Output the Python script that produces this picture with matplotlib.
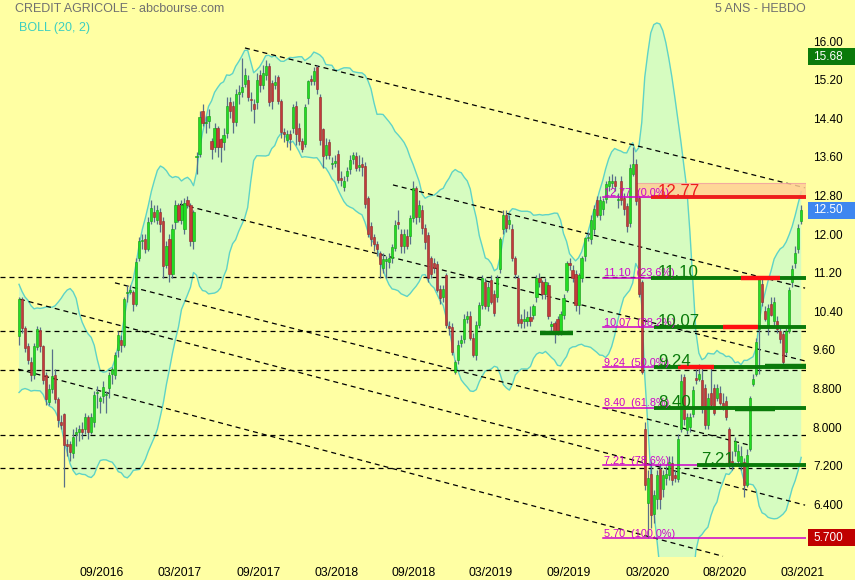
## CREDIT AGRICOLE weekly chart (5 ans - hebdo) with Bollinger (20, 2) and Fibonacci levels
import numpy as np
import pandas as pd
import matplotlib
matplotlib.use('Agg')
from matplotlib import pyplot as plt
from matplotlib import transforms
from matplotlib.patches import Rectangle

plt.rcParams['font.family'] = ['Liberation Sans', 'DejaVu Sans']

# weekly candles, bar 0 ~ early March 2016, bar 260 ~ early March 2021
opens = [9.88, 10.65, 10.05, 9.67, 9.35, 9.08, 9.65, 10.02, 9.67, 9.08,
         8.52, 8.79, 9.08, 8.58, 8.10, 8.27, 7.65, 7.65, 7.47, 7.85,
         7.90, 7.96, 7.96, 8.20, 7.90, 8.10, 8.70, 8.55, 8.65, 8.66,
         8.80, 9.10, 9.08, 9.60, 9.80, 9.70, 10.78, 10.80, 10.80, 10.55,
         11.50, 11.85, 11.90, 11.70, 12.27, 12.45, 12.30, 12.45, 12.27, 11.35,
         11.90, 11.17, 12.25, 12.60, 12.30, 12.10, 12.70, 12.60, 11.85, 13.60,
         13.67, 14.56, 14.30, 14.35, 13.94, 13.80, 14.20, 13.98, 13.90, 14.10,
         14.73, 14.65, 14.33, 14.90, 14.94, 15.12, 15.20, 14.80, 14.70, 14.73,
         15.30, 15.10, 15.30, 15.48, 15.13, 15.10, 15.25, 14.75, 14.12, 13.95,
         14.07, 14.20, 14.65, 14.20, 13.94, 13.87, 14.83, 15.20, 15.17, 15.46,
         14.85, 14.17, 13.65, 13.90, 13.45, 13.48, 13.67, 13.15, 12.98, 13.20,
         13.35, 13.55, 13.62, 13.40, 13.45, 13.42, 12.75, 12.17, 11.95, 11.80,
         11.60, 11.30, 11.45, 11.43, 11.50, 11.71, 12.25, 12.00, 11.75, 11.96,
         11.96, 12.33, 12.95, 12.35, 12.50, 12.13, 11.98, 11.50, 11.40, 11.38,
         10.87, 10.70, 11.15, 10.08, 10.08, 9.15, 9.40, 9.75, 9.83, 10.25,
         10.30, 9.85, 9.50, 10.12, 10.54, 11.00, 10.50, 11.05, 10.75, 10.70,
         11.27, 12.10, 12.40, 12.20, 12.10, 11.50, 11.10, 10.25, 10.20, 10.20,
         10.28, 10.33, 10.70, 11.10, 11.00, 10.75, 10.95, 10.10, 10.15, 10.25,
         9.98, 10.33, 10.85, 11.40, 11.25, 11.17, 10.52, 11.08, 11.54, 11.92,
         11.90, 12.10, 12.70, 12.40, 12.52, 12.73, 13.00, 13.05, 13.10, 12.70,
         13.10, 12.75, 12.58, 12.23, 13.25, 13.46, 12.75, 11.00, 7.96, 6.43,
         7.02, 6.20, 6.50, 7.12, 6.71, 6.95, 7.00, 7.25, 7.00, 6.92,
         7.96, 9.04, 7.94, 8.00, 8.27, 9.02, 9.00, 8.98, 8.80, 8.04,
         8.70, 8.80, 8.60, 8.70, 8.50, 8.55, 7.96, 7.30, 7.50, 7.30,
         7.20, 7.27, 6.80, 7.55, 8.90, 9.10, 10.04, 10.96, 10.40, 10.08,
         10.56, 10.19, 10.19, 10.00, 9.92, 9.55, 10.00, 11.00, 11.40, 11.70,
         12.27]
highs = [10.70, 10.70, 10.10, 9.75, 9.45, 9.75, 10.10, 10.08, 9.70, 9.15,
         8.90, 9.62, 9.20, 8.62, 8.25, 8.30, 7.75, 7.70, 7.95, 8.00,
         8.05, 8.10, 8.30, 8.25, 8.30, 8.75, 8.85, 8.65, 8.95, 8.75,
         9.15, 9.25, 9.55, 10.00, 9.90, 10.70, 10.95, 10.95, 10.85, 11.50,
         11.95, 12.00, 12.00, 12.35, 12.70, 12.60, 12.60, 12.55, 12.35, 11.85,
         12.00, 12.20, 12.70, 12.65, 12.70, 12.75, 12.80, 12.65, 12.50, 13.70,
         14.55, 14.70, 14.45, 14.60, 14.00, 14.30, 14.25, 14.00, 14.20, 14.85,
         14.85, 14.75, 15.00, 15.10, 15.65, 15.45, 15.30, 14.95, 14.80, 15.35,
         15.40, 15.50, 15.62, 15.55, 15.20, 15.30, 15.30, 14.80, 14.20, 14.15,
         14.15, 14.70, 14.75, 14.30, 14.00, 14.70, 15.20, 15.30, 15.47, 15.50,
         14.90, 14.20, 14.00, 13.98, 13.60, 13.65, 13.75, 13.30, 13.20, 13.40,
         13.65, 13.70, 13.70, 13.65, 13.60, 13.50, 12.80, 12.25, 12.00, 11.85,
         11.65, 11.60, 11.55, 11.60, 11.80, 12.30, 12.50, 12.10, 12.10, 12.10,
         12.40, 13.10, 13.00, 12.70, 12.60, 12.20, 12.05, 11.55, 11.50, 11.45,
         10.95, 10.95, 11.20, 10.20, 10.15, 9.40, 9.80, 9.90, 10.35, 10.40,
         10.40, 9.95, 10.20, 10.60, 11.15, 11.10, 11.00, 11.15, 10.85, 11.15,
         11.95, 12.50, 12.50, 12.40, 12.20, 11.55, 11.15, 10.35, 10.45, 10.40,
         10.50, 10.55, 11.15, 11.20, 11.05, 11.10, 11.00, 10.20, 10.20, 10.30,
         10.40, 10.75, 11.45, 11.50, 11.35, 11.25, 11.20, 11.55, 11.95, 12.05,
         12.40, 12.60, 12.80, 12.80, 12.75, 13.10, 13.20, 13.25, 13.20, 12.85,
         13.20, 12.85, 12.65, 13.45, 13.80, 13.55, 12.80, 11.05, 8.10, 7.10,
         7.30, 6.70, 7.10, 7.25, 7.10, 7.20, 7.40, 7.40, 7.10, 7.85,
         9.10, 9.10, 8.30, 8.30, 8.85, 9.20, 9.30, 9.25, 8.90, 8.70,
         9.25, 8.90, 8.90, 8.85, 8.70, 8.65, 8.00, 7.50, 7.80, 7.65,
         7.60, 7.35, 7.55, 8.65, 9.10, 9.85, 11.10, 11.10, 10.50, 10.55,
         10.70, 10.70, 10.30, 10.10, 10.00, 10.05, 10.90, 11.35, 11.75, 12.20,
         12.60]
lows = [9.70, 9.95, 9.55, 9.30, 8.95, 9.00, 9.60, 9.55, 8.90, 8.45,
        8.45, 8.70, 8.50, 8.00, 7.95, 6.75, 7.40, 7.30, 7.35, 7.60,
        7.70, 7.75, 7.85, 7.75, 7.85, 8.00, 8.40, 8.30, 8.50, 8.30,
        8.60, 8.90, 9.00, 9.45, 9.55, 9.65, 10.60, 10.75, 10.40, 10.50,
        11.45, 11.70, 11.60, 11.65, 12.20, 12.25, 12.20, 12.05, 11.10, 11.30,
        11.00, 11.10, 12.10, 12.25, 12.20, 12.00, 12.55, 11.75, 11.70, 13.25,
        13.60, 14.25, 14.10, 14.20, 13.55, 13.70, 13.60, 13.50, 13.75, 14.00,
        14.40, 14.10, 14.25, 14.70, 14.85, 15.05, 14.75, 14.55, 14.30, 14.60,
        14.95, 15.00, 15.20, 14.65, 14.60, 15.00, 14.70, 14.00, 13.90, 13.80,
        13.75, 14.10, 13.85, 13.85, 13.70, 13.80, 14.70, 15.10, 15.10, 14.90,
        13.85, 13.37, 13.55, 13.55, 13.35, 13.40, 13.05, 13.00, 12.90, 13.10,
        13.25, 13.45, 13.30, 13.30, 13.20, 12.55, 11.95, 11.75, 11.65, 11.55,
        11.10, 11.20, 11.10, 11.30, 11.40, 11.65, 12.10, 11.60, 11.60, 11.70,
        11.80, 12.25, 12.20, 12.25, 12.00, 11.70, 11.00, 11.10, 11.20, 10.80,
        10.55, 10.60, 10.05, 9.90, 9.50, 9.10, 9.30, 9.65, 9.75, 10.15,
        9.80, 9.45, 9.40, 10.05, 10.45, 10.45, 10.40, 10.55, 10.30, 10.60,
        11.20, 12.00, 12.05, 12.10, 11.45, 11.10, 10.10, 10.05, 10.05, 10.10,
        10.10, 10.25, 10.60, 10.90, 10.65, 10.65, 10.25, 9.95, 9.75, 9.90,
        9.90, 10.25, 10.80, 11.25, 11.00, 10.40, 10.35, 11.00, 11.45, 11.85,
        11.80, 12.00, 12.35, 12.30, 12.40, 12.65, 12.90, 12.95, 12.90, 12.55,
        12.60, 12.40, 12.05, 12.15, 13.20, 12.60, 10.70, 9.10, 6.70, 5.70,
        5.90, 6.00, 6.30, 6.30, 6.55, 6.80, 6.90, 6.80, 6.85, 6.85,
        7.90, 8.05, 7.85, 7.90, 8.20, 8.90, 8.95, 8.30, 7.95, 7.95,
        8.40, 8.25, 8.55, 8.45, 8.35, 8.15, 7.15, 7.10, 7.40, 7.20,
        7.10, 6.55, 6.75, 7.50, 8.85, 9.05, 9.10, 10.50, 10.20, 9.90,
        10.30, 10.10, 9.95, 9.75, 9.30, 9.50, 9.95, 10.90, 11.30, 11.60,
        12.20]
closes = [10.65, 10.05, 9.63, 9.40, 9.08, 9.67, 10.04, 9.67, 8.98, 8.58,
          8.79, 9.05, 8.58, 8.15, 8.04, 7.63, 7.60, 7.48, 7.80, 7.90,
          7.95, 7.90, 8.20, 7.90, 8.20, 8.67, 8.73, 8.60, 8.83, 8.66,
          9.08, 9.20, 9.50, 9.90, 9.70, 10.65, 10.80, 10.85, 10.55, 11.43,
          11.85, 11.85, 11.70, 12.25, 12.55, 12.35, 12.50, 12.20, 11.33, 11.75,
          11.17, 12.10, 12.60, 12.30, 12.60, 12.65, 12.60, 11.85, 12.45, 13.63,
          14.42, 14.30, 14.30, 14.45, 13.77, 14.20, 13.80, 13.80, 14.06, 14.65,
          14.56, 14.33, 14.90, 14.95, 15.06, 15.30, 14.85, 14.78, 14.60, 15.20,
          15.10, 15.35, 15.48, 14.73, 14.75, 15.15, 14.75, 14.12, 14.08, 14.07,
          13.98, 14.63, 14.08, 13.94, 13.77, 14.63, 15.17, 15.18, 15.38, 15.00,
          13.96, 13.63, 13.85, 13.65, 13.45, 13.52, 13.12, 13.13, 13.10, 13.30,
          13.54, 13.65, 13.38, 13.40, 13.40, 12.62, 12.00, 11.90, 11.80, 11.70,
          11.38, 11.48, 11.45, 11.50, 11.73, 12.19, 12.20, 11.75, 12.00, 11.75,
          12.33, 12.96, 12.35, 12.60, 12.13, 11.83, 11.10, 11.17, 11.30, 10.85,
          10.67, 10.87, 10.12, 10.06, 9.56, 9.35, 9.70, 9.80, 10.25, 10.30,
          9.85, 9.50, 10.12, 10.54, 11.08, 10.50, 10.90, 10.60, 10.37, 11.08,
          11.90, 12.40, 12.12, 12.30, 11.50, 11.17, 10.15, 10.15, 10.25, 10.28,
          10.20, 10.50, 11.08, 11.00, 10.75, 11.00, 10.30, 10.10, 10.00, 9.98,
          10.35, 10.67, 11.40, 11.35, 11.10, 10.52, 11.15, 11.50, 11.92, 11.95,
          12.30, 12.52, 12.40, 12.70, 12.69, 13.04, 13.10, 13.10, 13.00, 12.70,
          12.70, 12.52, 12.17, 13.38, 13.45, 12.69, 10.75, 9.15, 6.80, 6.95,
          6.17, 6.60, 7.00, 6.50, 7.00, 7.02, 7.27, 6.90, 6.95, 7.75,
          8.96, 8.17, 8.20, 8.20, 8.77, 8.98, 9.10, 8.38, 8.04, 8.60,
          8.45, 8.30, 8.80, 8.50, 8.40, 8.20, 7.20, 7.20, 7.70, 7.50,
          7.40, 6.80, 7.43, 8.60, 9.00, 9.77, 11.06, 10.60, 10.25, 10.46,
          10.33, 10.60, 10.04, 9.83, 9.35, 10.00, 10.85, 11.27, 11.60, 12.13,
          12.50]
# closes of the weeks before the window, estimated from the band width at the left edge
pre_closes = [10.9, 10.6, 10.3, 10.5, 10.2, 9.9, 9.8, 9.6, 9.9, 9.7,
              9.4, 9.0, 8.8, 9.1, 9.5, 9.3, 9.6, 9.9, 10.1]

date_labels = ['09/2016', '03/2017', '09/2017', '03/2018', '09/2018',
               '03/2019', '09/2019', '03/2020', '08/2020', '03/2021']
price_ticks = [16.0, 15.2, 14.4, 13.6, 12.8, 12.0, 11.2, 10.4, 9.6, 8.8, 8.0, 7.2, 6.4]
price_labels = ['16.00', '15.20', '14.40', '13.60', '12.80', '12.00', '11.20',
                '10.40', '9.60', '8.800', '8.000', '7.200', '6.400']

# Fibonacci retracement
fib_levels = [12.77, 11.10, 10.07, 9.24, 8.40, 7.21, 5.70]
fib_pcts = ['0.0%', '23.6%', '38.2%', '50.0%', '61.8%', '78.6%', '100.0%']

# horizontal support lines and trend channel lines (bar, price)
support_levels = [11.11, 9.99, 9.18, 7.83, 7.16]
trend_lines = [((75.1, 15.86), (261.3, 12.96)),
               ((124.3, 13.02), (261.3, 10.88)),
               ((53.5, 12.62), (261.3, 9.37)),
               ((31.9, 10.99), (242.4, 7.63)),
               ((0.3, 10.65), (261.3, 6.38)),
               ((-0.3, 9.20), (234.0, 5.32))]

# price boxes on the right axis
box_values = ['15.68', '12.50', '5.700']
box_colors = ['#0b7a0b', '#3d86f0', '#c00000']

# colours
bg = '#ffffa3'
band_fill = '#d6fcc0'
band_edge = '#5fd3c6'
up_col, up_edge = '#22dd22', '#139a13'
dn_col, dn_edge = '#c43a3a', '#8c2a2a'
wick_col = '#58708a'
fib_col = '#cc00cc'
dark_green = '#0a7a0a'
red = '#ee1c1c'

## Bollinger (20, 2)
all_closes = pd.Series(pre_closes + closes)
mid = all_closes.rolling(20).mean()
sd = all_closes.rolling(20).std(ddof=0)
upper = (mid + 2 * sd).values[len(pre_closes):]
lower = (mid - 2 * sd).values[len(pre_closes):]

o = np.array(opens)
h = np.array(highs)
l = np.array(lows)
c = np.array(closes)
idx = np.arange(len(c))

fig = plt.figure(figsize=(8.55, 5.8), dpi=100, facecolor=bg)
ax = fig.add_axes([0, 23 / 580, 806 / 855, 536 / 580])
ax.set_facecolor(bg)
ax.set_xlim(-6.32, 261.6)
ax.set_ylim(5.305, 16.419)
for s in ax.spines.values():
    s.set_visible(False)

# band
ax.fill_between(idx, lower, upper, color=band_fill, lw=0, zorder=1)
ax.plot(idx, upper, color=band_edge, lw=1.0, zorder=2)
ax.plot(idx, lower, color=band_edge, lw=1.0, zorder=2)

# dashed lines
dash = (0, (4, 3.2))
for v in support_levels:
    ax.axhline(v, color='black', lw=0.9, ls=dash, zorder=3)
for (x0, y0), (x1, y1) in trend_lines:
    ax.plot([x0, x1], [y0, y1], color='black', lw=0.9, ls=dash, zorder=3)

# 0% zone
ax.add_patch(Rectangle((205.1, fib_levels[0]), 261.6 - 205.1, 13.05 - fib_levels[0],
                       facecolor='#ffcf95', edgecolor='#f2a0a0', lw=0.8, alpha=0.85, zorder=3))

# candles
ax.vlines(idx, l, h, color=wick_col, lw=0.9, zorder=4)
up = c >= o
body_lo = np.minimum(o, c)
body_h = np.maximum(np.abs(c - o), 0.03)
ax.bar(idx[up], body_h[up], bottom=body_lo[up], width=0.72,
       color=up_col, edgecolor=up_edge, lw=0.4, zorder=5)
ax.bar(idx[~up], body_h[~up], bottom=body_lo[~up], width=0.72,
       color=dn_col, edgecolor=dn_edge, lw=0.4, zorder=5)

# fibonacci levels
fib_start = 194.1
thick_start = [210.1, 210.1, 211.1, 211.1, 211.1, 225.4, 261.6]
big_x = [212.4, 212.4, 212.4, 212.4, 212.4, 226.7]
for k, v in enumerate(fib_levels):
    ax.plot([fib_start, thick_start[k]], [v, v], color=fib_col, lw=1.1, zorder=6)
    ax.text(fib_start + 0.3, v + 0.03, '%.2f  (%s)' % (v, fib_pcts[k]), color=fib_col,
            fontsize=7.8, va='baseline', ha='left', zorder=8)
    if k < 6:
        col = red if k == 0 else dark_green
        ax.plot([thick_start[k], 261.6], [v, v], color=col, lw=2.8,
                solid_capstyle='butt', zorder=6)
        ax.text(big_x[k], v + 0.02, '%.2f' % v, color=col, fontsize=12.2, va='baseline',
                zorder=8)

red_marks = [(240.0, 253.0, 11.10), (234.0, 245.7, 10.07), (219.1, 231.1, 9.24)]
green_marks = [(248.0, 261.6, 9.27), (238.0, 251.3, 8.38), (173.2, 184.2, 9.94)]
for x0, x1, v in red_marks:
    ax.plot([x0, x1], [v, v], color='#ff1010', lw=3.2, solid_capstyle='butt', zorder=7)
for x0, x1, v in green_marks:
    ax.plot([x0, x1], [v, v], color=dark_green, lw=3.2, solid_capstyle='butt', zorder=7)

# axes labels
ax.set_yticks(price_ticks, price_labels)
ax.yaxis.tick_right()
ax.tick_params(axis='y', length=0, pad=5, labelsize=8.5, labelcolor='black')
tick_pos = [27.6, 53.5, 79.5, 105.4, 131.3, 156.9, 182.8, 208.8, 234.7, 260.3]
ax.set_xticks(tick_pos, date_labels)
ax.tick_params(axis='x', length=0, pad=7, labelsize=8.8, labelcolor='black')

# value boxes on the right
trans = transforms.blended_transform_factory(fig.transFigure, ax.transData)
box_h = 17 / 48.23
for lab, colr in zip(box_values, box_colors):
    v = float(lab)
    ax.add_patch(Rectangle((808 / 855, v - box_h / 2), 47 / 855, box_h, transform=trans,
                           facecolor=colr, edgecolor='none', clip_on=False, zorder=9))
    ax.text(813 / 855, v, lab, transform=trans, color='white', fontsize=8.5,
            va='center', ha='left', clip_on=False, zorder=10)

# titles
fig.text(15 / 855, 1 - 8.5 / 580, 'CREDIT AGRICOLE - abcbourse.com', color='#707070',
         fontsize=9, va='center', ha='left')
fig.text(19 / 855, 1 - 28.5 / 580, 'BOLL (20, 2)', color='#3ccfc0',
         fontsize=9, va='center', ha='left')
fig.text(806 / 855, 1 - 8.5 / 580, '5 ANS - HEBDO', color='#707070',
         fontsize=9, va='center', ha='right')

fig.savefig('out.png', dpi=100, facecolor=bg)
